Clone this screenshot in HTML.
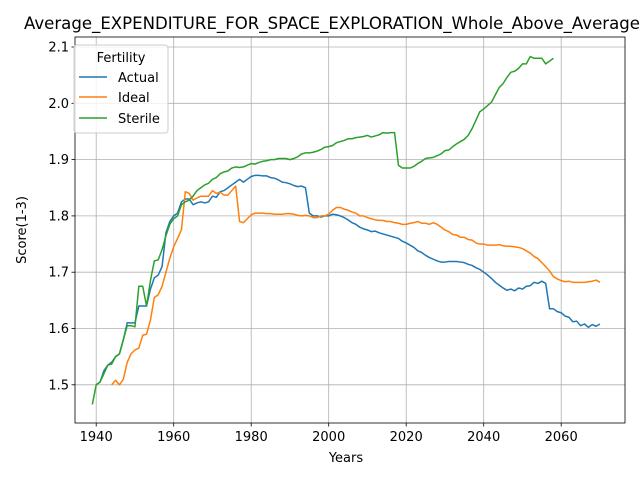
<!DOCTYPE html>
<html><head><meta charset="utf-8"><style>
body{margin:0;background:#fff}
svg{display:block;font-family:"DejaVu Sans","Liberation Sans",sans-serif}
</style></head><body>
<svg id="chart" width="640" height="480" style="position:absolute;left:0;top:0"></svg>
<script>
const actualStart=1940;
const actual=[1.50,1.505,1.525,1.535,1.54,1.55,1.555,1.58,1.61,1.61,1.61,1.64,1.64,1.64,1.67,1.69,1.695,1.71,1.77,1.79,1.80,1.805,1.825,1.83,1.83,1.82,1.823,1.825,1.823,1.825,1.835,1.833,1.843,1.845,1.85,1.855,1.86,1.865,1.86,1.865,1.87,1.872,1.872,1.871,1.871,1.868,1.867,1.864,1.86,1.859,1.857,1.854,1.852,1.853,1.85,1.805,1.80,1.80,1.798,1.80,1.80,1.803,1.802,1.80,1.797,1.793,1.788,1.785,1.78,1.777,1.775,1.772,1.773,1.77,1.768,1.766,1.764,1.762,1.76,1.755,1.752,1.748,1.744,1.738,1.735,1.73,1.726,1.723,1.72,1.718,1.718,1.719,1.719,1.719,1.718,1.717,1.714,1.712,1.708,1.705,1.70,1.695,1.689,1.682,1.677,1.672,1.668,1.67,1.667,1.672,1.67,1.675,1.676,1.682,1.68,1.684,1.68,1.635,1.635,1.63,1.628,1.622,1.62,1.612,1.613,1.605,1.608,1.602,1.607,1.604,1.608];
const idealStart=1944;
const ideal=[1.50,1.508,1.50,1.51,1.54,1.555,1.562,1.565,1.588,1.59,1.615,1.655,1.66,1.675,1.70,1.725,1.745,1.76,1.775,1.843,1.84,1.828,1.832,1.835,1.835,1.835,1.845,1.84,1.842,1.837,1.837,1.845,1.853,1.79,1.788,1.795,1.802,1.805,1.805,1.805,1.804,1.804,1.803,1.803,1.803,1.804,1.804,1.803,1.801,1.800,1.801,1.80,1.797,1.797,1.80,1.80,1.803,1.81,1.815,1.815,1.812,1.81,1.807,1.805,1.80,1.80,1.797,1.795,1.793,1.792,1.792,1.79,1.79,1.788,1.787,1.785,1.785,1.787,1.788,1.79,1.787,1.787,1.785,1.788,1.785,1.78,1.775,1.772,1.767,1.766,1.762,1.762,1.758,1.757,1.752,1.75,1.75,1.748,1.748,1.748,1.749,1.747,1.746,1.746,1.745,1.744,1.742,1.738,1.734,1.728,1.724,1.717,1.71,1.702,1.692,1.688,1.685,1.683,1.684,1.682,1.682,1.682,1.682,1.683,1.684,1.686,1.682];
const sterileStart=1939;
const sterile=[1.465,1.50,1.505,1.52,1.535,1.537,1.55,1.555,1.58,1.605,1.605,1.603,1.675,1.675,1.64,1.685,1.72,1.722,1.74,1.765,1.785,1.795,1.80,1.82,1.825,1.828,1.835,1.845,1.85,1.855,1.858,1.865,1.868,1.875,1.878,1.88,1.885,1.887,1.886,1.887,1.89,1.893,1.892,1.895,1.897,1.898,1.90,1.90,1.902,1.902,1.902,1.90,1.902,1.905,1.91,1.912,1.912,1.913,1.915,1.918,1.922,1.923,1.925,1.93,1.932,1.934,1.937,1.937,1.939,1.94,1.941,1.943,1.94,1.942,1.944,1.948,1.947,1.948,1.948,1.89,1.885,1.885,1.885,1.888,1.893,1.897,1.902,1.903,1.904,1.907,1.91,1.916,1.917,1.923,1.928,1.932,1.936,1.943,1.955,1.97,1.985,1.99,1.996,2.002,2.015,2.028,2.035,2.046,2.055,2.057,2.062,2.07,2.07,2.083,2.08,2.08,2.08,2.07,2.075,2.08];
const xTicks=[1940,1960,1980,2000,2020,2040,2060];
const yTicks=[1.5,1.6,1.7,1.8,1.9,2.0,2.1];
const yTickLabels=["1.5","1.6","1.7","1.8","1.9","2.0","2.1"];

const L=75,R=625,T=37,B=423;
const X=v=>96.2+(v-1940)*3.875;
const Y=v=>103.3-(v-2.0)*563;
const svg=document.getElementById('chart');
const NS='http://www.w3.org/2000/svg';
function mk(tag,attrs,parent){const e=document.createElementNS(NS,tag);for(const k in attrs)e.setAttribute(k,attrs[k]);(parent||svg).appendChild(e);return e;}

const grid=mk('g',{});


xTicks.forEach(t=>{
  const l=mk('line',{x1:X(t),x2:X(t),y1:T,y2:B,stroke:'#b0b0b0','stroke-width':0.8},grid);
  
  
  mk('line',{x1:X(t),x2:X(t),y1:B,y2:B+3.5,stroke:'#000','stroke-width':0.8});
  const tx=mk('text',{x:X(t),y:B+18,'text-anchor':'middle','font-size':13});
  tx.textContent=t;
  
  
});
yTicks.forEach((t,i)=>{
  const l=mk('line',{x1:L,x2:R,y1:Y(t),y2:Y(t),stroke:'#b0b0b0','stroke-width':0.8},grid);
  
  
  mk('line',{x1:L-3.5,x2:L,y1:Y(t),y2:Y(t),stroke:'#000','stroke-width':0.8});
  const tx=mk('text',{x:L-6,y:Y(t)+4.5,'text-anchor':'end','font-size':13});
  tx.textContent=yTickLabels[i];
  
  
});
function series(data,start,color,name){
  const d=data.map((v,i)=>(i?'L':'M')+X(start+i).toFixed(2)+','+Y(v).toFixed(2)).join('');
  const p=mk('path',{d:d,fill:'none',stroke:color,'stroke-width':1.5,'stroke-linejoin':'round'});
  
  
}
series(actual,actualStart,'#1f77b4','actual-line');
series(ideal,idealStart,'#ff7f0e','ideal-line');
series(sterile,sterileStart,'#2ca02c','sterile-line');
const frame=mk('rect',{x:L,y:T,width:R-L,height:B-T,fill:'none',stroke:'#000','stroke-width':0.8});


</script>
<svg width="640" height="480" style="position:absolute;left:0;top:0" font-family="DejaVu Sans, Liberation Sans, sans-serif">
<text x="332" y="29" text-anchor="middle" font-size="16.7" textLength="616" lengthAdjust="spacingAndGlyphs">Average_EXPENDITURE_FOR_SPACE_EXPLORATION_Whole_Above_Average</text>
<text x="346" y="462" text-anchor="middle" font-size="13">Years</text>
<text transform="translate(26,230) rotate(-90)" text-anchor="middle" font-size="13">Score(1-3)</text>
<g>
<rect x="74" y="45" width="94" height="88" rx="3" fill="#fff" fill-opacity="0.8" stroke="#ccc"/>
<text x="121" y="62" text-anchor="middle" font-size="13">Fertility</text>
<g><line x1="79" y1="77" x2="107" y2="77" stroke="#1f77b4" stroke-width="1.5"/><text x="118" y="82" font-size="13">Actual</text></g>
<g><line x1="79" y1="97" x2="107" y2="97" stroke="#ff7f0e" stroke-width="1.5"/><text x="118" y="102" font-size="13">Ideal</text></g>
<g><line x1="79" y1="118" x2="107" y2="118" stroke="#2ca02c" stroke-width="1.5"/><text x="118" y="123" font-size="13">Sterile</text></g>
</g>
</svg>
</body></html>
